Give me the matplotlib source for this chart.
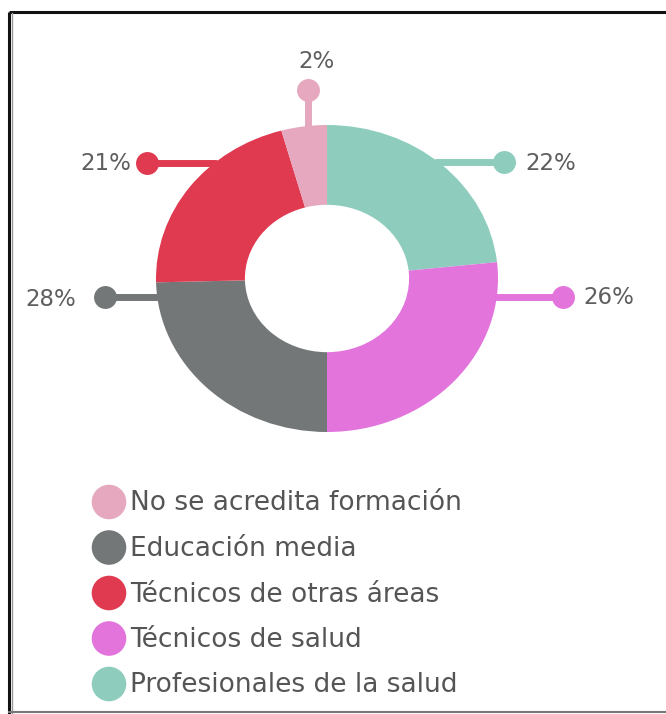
import numpy as np
import matplotlib
matplotlib.use("Agg")
import matplotlib.pyplot as plt

# data (slice sizes as drawn in the picture, labels as printed)
categories = ['Profesionales de la salud', 'Técnicos de salud', 'Educación media',
              'Técnicos de otras áreas', 'No se acredita formación']
shares = [23.3, 26.7, 24.6, 21.1, 4.3]
pct_labels = ['22%', '26%', '28%', '21%', '2%']
colors = ['#8ecdbd', '#e274dc', '#737778', '#e03a51', '#e6a8be']
legend_order = [4, 2, 3, 1, 0]

W, H = 666, 714
fig = plt.figure(figsize=(W / 100, H / 100), dpi=100)

# donut box in pixels (picture is a bit stretched sideways)
cx, cy, rx, ry = 327, 278.5, 171, 153.5
ax = fig.add_axes([(cx - rx) / W, 1 - (cy + ry) / H, 2 * rx / W, 2 * ry / H])
wedges, _ = ax.pie(shares, colors=colors, startangle=90, counterclock=False,
                   wedgeprops=dict(width=0.52, linewidth=0))
for w in wedges:
    w.set_clip_on(False)
ax.set_aspect('auto')
ax.set_xlim(-1, 1)
ax.set_ylim(-1, 1)
ax.axis('off')

# overlay in pixel coords for callouts, legend and frame
ov = fig.add_axes([0, 0, 1, 1])
ov.set_xlim(0, W)
ov.set_ylim(H, 0)
ov.axis('off')
ov.patch.set_alpha(0)

# callout layout: dot position and text anchor per slice
dots = [(504, 162), (563, 297), (105, 297), (147, 163), (308, 90)]
texts = [(525, 162, 'left'), (583, 296, 'left'), (76, 298, 'right'),
         (131, 162, 'right'), (317, 60, 'center')]
txt_color = '#5e5e5e'

for i, (dx, dy) in enumerate(dots):
    if i == 4:
        # vertical stem to the top of the ring
        ey = cy - ry * np.sqrt(1 - ((dx - cx) / rx) ** 2) + 3
        ov.plot([dx, dx], [dy, ey], color=colors[i], lw=5, solid_capstyle='butt', zorder=2)
    else:
        side = 1 if dx > cx else -1
        ex = cx + side * rx * np.sqrt(1 - ((cy - dy) / ry) ** 2) - side * 3
        ov.plot([dx, ex], [dy, dy], color=colors[i], lw=5, solid_capstyle='butt', zorder=2)
    ov.plot(dx, dy, 'o', ms=16.5, color=colors[i], mec='none', zorder=3)
    tx, ty, ha = texts[i]
    ov.text(tx, ty + 8.5, pct_labels[i], ha=ha, va='baseline', fontsize=16.5,
            color=txt_color, family='DejaVu Sans')

# legend
for k, i in enumerate(legend_order):
    y = 502 + k * 45.5
    ov.scatter(109, y, s=620, color=colors[i], edgecolors='none', zorder=3)
    ov.text(130, y + 8.5, categories[i], ha='left', va='baseline', fontsize=19,
            color='#555555', family='DejaVu Sans', zorder=4)

# frame
ov.plot([8.5, W], [12, 12], color='#111111', lw=2.2, solid_capstyle='butt')
ov.plot([8.5, 8.5], [12, H], color='#111111', lw=2.2, solid_capstyle='butt')
ov.plot([11.5, 11.5], [13, H], color='#999999', lw=1.0)
ov.plot([8.5, W], [712, 712], color='#777777', lw=1.5)

fig.savefig('out.png', dpi=100)
